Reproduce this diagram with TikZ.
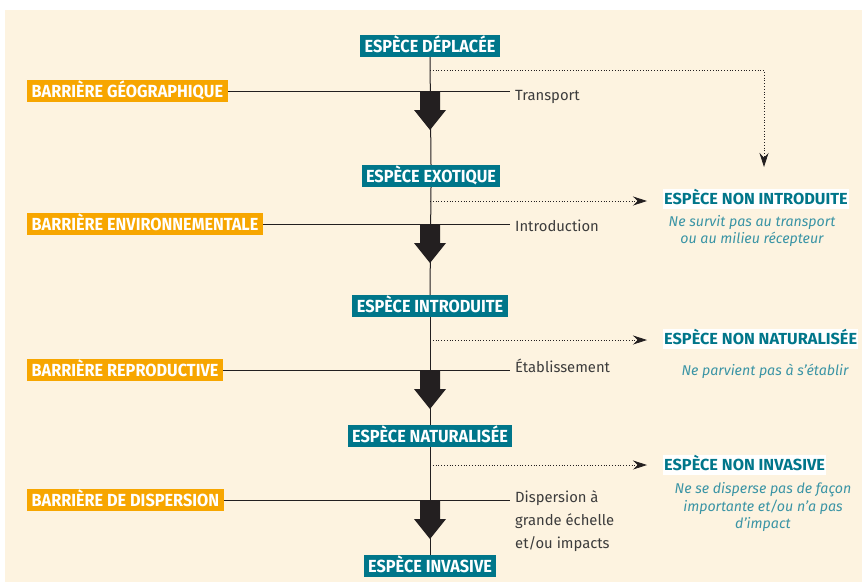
\documentclass[tikz,border=0pt]{standalone}
\usepackage{fontspec}
\setmainfont{Fira Sans}
\newfontfamily\condfont{Fira Sans}[FakeStretch=0.93]
\newfontfamily\widefont{Fira Sans}[FakeStretch=1.02]
\usetikzlibrary{arrows.meta}
\definecolor{myteal}{HTML}{00768A}
\definecolor{myorange}{HTML}{F7A600}
\definecolor{mycream}{HTML}{FDF3E0}
\definecolor{mynote}{HTML}{3A94A5}
\definecolor{myarrow}{HTML}{231F20}
\definecolor{mygray}{HTML}{3C3C3C}
\begin{document}
\begin{tikzpicture}[x=1pt,y=-1pt,
  species/.style={fill=myteal,text=white,font=\condfont\bfseries\fontsize{17.5}{19}\selectfont,
    inner xsep=4.5pt,inner ysep=0pt,minimum height=22pt,text height=12pt,text depth=0pt},
  barrier/.style={species,fill=myorange,anchor=west},
  outcome/.style={fill=white,text=myteal,font=\widefont\bfseries\fontsize{16}{18}\selectfont,
    inner xsep=1pt,inner ysep=0pt,minimum height=20pt,text height=11pt,text depth=0pt,anchor=west},
  note/.style={text=mynote,font=\itshape\fontsize{14.2}{17.5}\selectfont,align=center,inner sep=0pt},
  stage/.style={text=mygray,font=\fontsize{14.8}{23}\selectfont,align=left,inner sep=0pt,anchor=base west},
  thinline/.style={line width=1pt,draw=myarrow},
  dots/.style={line width=0.8pt,draw=myarrow,dash pattern=on 0.8pt off 2pt,
    -{Stealth[length=14pt,width=9pt]}},
  bigarrow/.pic={\fill[myarrow] (-10,0)--(10,0)--(10,19)--(16,19)--(0,39)--(-16,19)--(-10,19)--cycle;}
]
\useasboundingbox (0,0) rectangle (862,582);
\fill[mycream] (5,10) rectangle (862,582);

% species
\node[species] (s0) at (430,46) {ESPÈCE DÉPLACÉE};
\node[species] (s1) at (431,176) {ESPÈCE EXOTIQUE};
\node[species] (s2) at (430,306) {ESPÈCE INTRODUITE};
\node[species] (s3) at (430,436) {ESPÈCE NATURALISÉE};
\node[species] (s4) at (430,566) {ESPÈCE INVASIVE};

% barriers
\node[barrier] (b1) at (27,91) {BARRIÈRE GÉOGRAPHIQUE};
\node[barrier] (b2) at (27,224) {BARRIÈRE ENVIRONNEMENTALE};
\node[barrier] (b3) at (27,370) {BARRIÈRE REPRODUCTIVE};
\node[barrier] (b4) at (27,500) {BARRIÈRE DE DISPERSION};

% stage labels
\coordinate (e1) at (510,91);
\coordinate (e2) at (510,224);
\coordinate (e3) at (510,370);
\coordinate (e4) at (510,500);
\node[stage] (t1) at (515,100) {Transport};
\node[stage] (t2) at (515,231) {Introduction};
\node[stage] (t3) at (515,372) {Établissement};
\node[stage,anchor=north west] (t4) at (515,490) {Dispersion à\\grande échelle\\et/ou impacts};

% outcomes
\node[outcome] (o1) at (663,199) {ESPÈCE NON INTRODUITE};
\node[outcome] (o2) at (663,339) {ESPÈCE NON NATURALISÉE};
\node[outcome] (o3) at (663,465) {ESPÈCE NON INVASIVE};
\node[note] (n1) at (752,231) {Ne survit pas au transport\\ou au milieu récepteur};
\node[note] (n2) at (765,371) {Ne parvient pas à s’établir};
\node[note] (n3) at (763,507) {Ne se disperse pas de façon\\importante et/ou n’a pas\\d’impact};

% main thin lines
\draw[thinline] (s0.south) -- (s1.north);
\draw[thinline] (s1.south) -- (s2.north);
\draw[thinline] (s2.south) -- (s3.north);
\draw[thinline] (s3.south) -- (s4.north);
\draw[thinline] (b1.east) -- (e1);
\draw[thinline] (b2.east) -- (e2);
\draw[thinline] (b3.east) -- (e3);
\draw[thinline] (b4.east) -- (e4);

% big arrows
\pic at (430,91) {bigarrow};
\pic at (430,224) {bigarrow};
\pic at (430,370) {bigarrow};
\pic at (430,500) {bigarrow};

% dotted arrows
\coordinate (d0) at (430,70);
\coordinate (a0) at (764,167);
\coordinate (d1) at (430,201);
\coordinate (a1) at (647,201);
\coordinate (d2) at (430,340);
\coordinate (a2) at (647,340);
\coordinate (d3) at (430,465);
\coordinate (a3) at (647,465);
\draw[dots] (d0) -| (a0);
\draw[dots] (d1) -- (a1);
\draw[dots] (d2) -- (a2);
\draw[dots] (d3) -- (a3);
\end{tikzpicture}
\end{document}
